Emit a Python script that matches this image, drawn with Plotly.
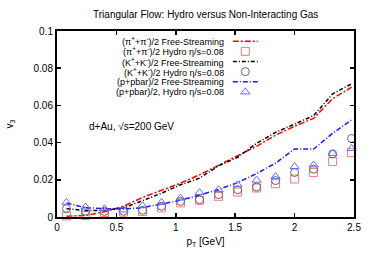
import plotly.graph_objects as go

pt = [0.08, 0.24, 0.40, 0.56, 0.72, 0.88, 1.04, 1.20, 1.36, 1.52, 1.68, 1.84, 2.00, 2.16, 2.32, 2.48]

pi_fs = [0.0004, 0.0008, 0.0028, 0.0058, 0.0105, 0.0145, 0.0182, 0.0227, 0.0278, 0.0325, 0.0380, 0.0440, 0.0488, 0.0530, 0.0636, 0.0698]
k_fs = [0.0045, 0.0035, 0.0035, 0.0049, 0.0088, 0.0128, 0.0173, 0.0209, 0.0275, 0.0321, 0.0396, 0.0455, 0.0500, 0.0545, 0.0662, 0.0716]
p_fs = [0.0075, 0.0050, 0.0045, 0.0043, 0.0050, 0.0068, 0.0090, 0.0118, 0.0148, 0.0185, 0.0233, 0.0290, 0.0365, 0.0365, 0.0450, 0.0522]

pi_hy = [0.0006, 0.0008, 0.0024, 0.0026, 0.0030, 0.0049, 0.0076, 0.0090, 0.0111, 0.0134, 0.0156, 0.0179, 0.0204, 0.0239, 0.0298, 0.0346]
k_hy = [0.0045, 0.0031, 0.0030, 0.0031, 0.0036, 0.0058, 0.0084, 0.0093, 0.0120, 0.0147, 0.0161, 0.0196, 0.0239, 0.0257, 0.0339, 0.0422]
p_hy = [0.0079, 0.0054, 0.0044, 0.0038, 0.0061, 0.0079, 0.0102, 0.0132, 0.0147, 0.0173, 0.0198, 0.0218, 0.0271, 0.0280, 0.0342, 0.0369]

names = [
    "(π<sup>+</sup>+π<sup>-</sup>)/2 Free-Streaming",
    "(π<sup>+</sup>+π<sup>-</sup>)/2 Hydro η/s=0.08",
    "(K<sup>+</sup>+K<sup>-</sup>)/2 Free-Streaming",
    "(K<sup>+</sup>+K<sup>-</sup>)/2 Hydro η/s=0.08",
    "(p+pbar)/2 Free-Streaming",
    "(p+pbar)/2, Hydro η/s=0.08",
]

xticks = [0, 0.5, 1, 1.5, 2, 2.5]
yticks = [0, 0.02, 0.04, 0.06, 0.08, 0.1]

RED = "#ff0000"
RED_M = "#f47a7a"
BLACK = "#000000"
GRAY_M = "#666666"
BLUE = "#1a1aff"
BLUE_M = "#6a6aff"

styles = [
    dict(kind="line", color=RED, dash="6px,2px,2px,2px"),
    dict(kind="marker", color=RED_M, symbol="square-open"),
    dict(kind="line", color=BLACK, dash="4px,2px,1px,2px"),
    dict(kind="marker", color=GRAY_M, symbol="circle-open"),
    dict(kind="line", color=BLUE, dash="5px,2px,1px,2px"),
    dict(kind="marker", color=BLUE_M, symbol="triangle-up-open"),
]
series = [pi_fs, pi_hy, k_fs, k_hy, p_fs, p_hy]

fig = go.Figure()

for ys, st, nm in zip(series, styles, names):
    if st["kind"] == "line":
        fig.add_trace(go.Scatter(x=pt, y=ys, mode="lines", name=nm,
                                 line=dict(color=st["color"], width=1.5, dash=st["dash"]),
                                 showlegend=False))
    else:
        fig.add_trace(go.Scatter(x=pt, y=ys, mode="markers", name=nm,
                                 marker=dict(symbol=st["symbol"], size=8, color=st["color"],
                                             line=dict(width=1, color=st["color"])),
                                 cliponaxis=False, showlegend=False))

# Custom legend (text right-aligned, key on the right) on an overlay axis
leg_x_text = 0.568
leg_x0, leg_x1 = 0.592, 0.676
leg_y0 = 0.945
leg_dy = 0.0545
for i, (st, nm) in enumerate(zip(styles, names)):
    yy = leg_y0 - i * leg_dy
    fig.add_annotation(x=leg_x_text, y=yy, xref="paper", yref="paper", text=nm,
                       showarrow=False, xanchor="right", yanchor="middle",
                       font=dict(size=9, color="#000"))
    if st["kind"] == "line":
        fig.add_trace(go.Scatter(x=[leg_x0, leg_x1], y=[yy, yy], mode="lines",
                                 xaxis="x2", yaxis="y2", showlegend=False, hoverinfo="skip",
                                 line=dict(color=st["color"], width=1.5, dash=st["dash"])))
    else:
        fig.add_trace(go.Scatter(x=[(leg_x0 + leg_x1) / 2], y=[yy], mode="markers",
                                 xaxis="x2", yaxis="y2", showlegend=False, hoverinfo="skip",
                                 marker=dict(symbol=st["symbol"], size=8, color=st["color"],
                                             line=dict(width=1, color=st["color"]))))

fig.add_annotation(x=0.1, y=0.489, xref="paper", yref="paper",
                   text="d+Au, √s=200 GeV", showarrow=False, xanchor="left",
                   yanchor="middle", font=dict(size=10, color="#000"))

axis_common = dict(showline=True, linecolor="black", linewidth=2, mirror="allticks",
                   ticks="inside", ticklen=4, tickwidth=1.5, tickcolor="black",
                   showgrid=False, zeroline=False, automargin=False,
                   tickfont=dict(size=10, color="#000"))

fig.update_layout(
    template="none",
    width=374, height=262,
    margin=dict(l=57, r=19.5, t=30.5, b=44.5),
    paper_bgcolor="white", plot_bgcolor="white",
    font=dict(family="Liberation Sans, Arial, sans-serif", size=10, color="#000"),
    title=dict(text="Triangular Flow: Hydro versus Non-Interacting Gas",
               x=0.55, xanchor="center", y=0.945, yanchor="middle",
               font=dict(size=10, color="#000")),
    xaxis=dict(range=[0, 2.5], tickvals=xticks, ticktext=[f"{v:g}" for v in xticks],
               title=dict(text="p<sub>T</sub> [GeV]", standoff=6, font=dict(size=10)),
               **axis_common),
    yaxis=dict(range=[0, 0.1], tickvals=yticks, ticktext=[f"{v:g}" for v in yticks],
               title=dict(text="v<sub>3</sub>", standoff=18, font=dict(size=10)),
               **axis_common),
    xaxis2=dict(range=[0, 1], overlaying="x", visible=False, fixedrange=True),
    yaxis2=dict(range=[0, 1], overlaying="y", visible=False, fixedrange=True),
    showlegend=False,
)

fig.write_html("out.html",
               config={"displayModeBar": False, "staticPlot": True},
               post_script="document.body.style.margin='0';document.body.style.padding='0';")
